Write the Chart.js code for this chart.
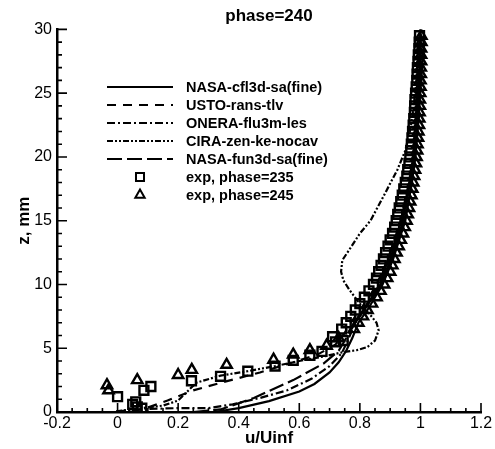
<!DOCTYPE html>
<html>
<head>
<meta charset="utf-8">
<script src="https://cdn.jsdelivr.net/npm/chart.js@4.4.1/dist/chart.umd.min.js"></script>
<style>
  body { margin: 0; background: #fff; }
</style>
</head>
<body>
<canvas id="grafico" width="495" height="449"></canvas>
<script>
// Ejes
var xTicks = [-0.2, 0, 0.2, 0.4, 0.6, 0.8, 1, 1.2];
var yTicks = [0, 5, 10, 15, 20, 25, 30];

// NASA-cfl3d-sa(fine)
var cfl3dU = [0.32, 0.40, 0.50, 0.60, 0.65, 0.70, 0.73, 0.755, 0.775, 0.795, 0.825, 0.85, 0.875, 0.91, 0.95, 0.972, 0.983, 0.997, 1.0];
var cfl3dZ = [0, 0.3, 0.85, 1.6, 2.2, 3.1, 3.9, 4.8, 5.8, 7, 8, 9, 10, 12, 15, 18, 20, 25, 30];

// USTO-rans-tlv
var ustoU = [0.05, 0.10, 0.165, 0.25, 0.35, 0.47, 0.58, 0.66, 0.72, 0.75, 0.77, 0.80, 0.83, 0.855, 0.893, 0.935, 0.962, 0.975, 0.993, 1.0];
var ustoZ = [0.1, 0.35, 0.9, 1.7, 2.35, 3.1, 3.9, 4.5, 5.3, 6.2, 7, 8, 9, 10, 12, 15, 18, 20, 25, 30];

// ONERA-flu3m-les
var oneraU = [0.0, 0.1, 0.2, 0.3, 0.38, 0.47, 0.56, 0.64, 0.7, 0.74, 0.76, 0.785, 0.812, 0.862, 0.898, 0.938, 0.964, 0.977, 0.993, 1.0];
var oneraZ = [0.05, 0.25, 0.3, 0.3, 0.6, 1.1, 1.7, 2.6, 3.6, 4.6, 5.6, 7, 8, 10, 12, 15, 18, 20, 25, 30];

// CIRA-zen-ke-nocav
var ciraU = [-0.005, 0.08, 0.15, 0.2, 0.23, 0.26, 0.34, 0.43, 0.52, 0.6, 0.68, 0.746, 0.79, 0.825, 0.85, 0.862, 0.855, 0.835, 0.81, 0.79, 0.765, 0.746, 0.738, 0.742, 0.77, 0.80, 0.835, 0.88, 0.924, 0.95, 0.965, 0.975, 0.985, 0.993, 1.0];
var ciraZ = [0.05, 0.3, 0.5, 0.9, 1.6, 2.3, 2.85, 3.2, 3.6, 4.0, 4.35, 4.7, 4.85, 5.1, 5.6, 6.4, 7.0, 7.6, 8.2, 8.8, 9.6, 10.3, 11, 11.9, 12.9, 14, 15, 17, 19, 20.5, 22, 23.5, 25.5, 27.5, 30];

// NASA-fun3d-sa(fine)
var fun3dU = [0.25, 0.34, 0.45, 0.58, 0.68, 0.73, 0.76, 0.785, 0.815, 0.865, 0.9, 0.94, 0.965, 0.978, 0.994, 1.0];
var fun3dZ = [0, 0.2, 1.1, 2.5, 3.8, 4.8, 6, 7, 8, 10, 12, 15, 18, 20, 25, 30];

// exp, phase=235
var exp235U = [0.0, 0.05, 0.06, 0.065, 0.08, 0.087, 0.11, 0.244, 0.34, 0.43, 0.52, 0.58, 0.635, 0.675, 0.72, 0.71, 0.745,
  0.74, 0.755, 0.77, 0.785, 0.80, 0.815, 0.83, 0.845, 0.855, 0.862, 0.87, 0.878, 0.885, 0.893, 0.90, 0.908, 0.915, 0.92,
  0.925, 0.93, 0.935, 0.94, 0.945, 0.95, 0.955, 0.958, 0.962, 0.965, 0.968, 0.97, 0.972, 0.974, 0.976, 0.978, 0.98,
  0.981, 0.982, 0.984, 0.986, 0.988, 0.989, 0.99, 0.992, 0.993, 0.995, 0.996, 0.997];
var exp235Z = [1.2, 0.6, 0.8, 0.4, 0.3, 1.7, 2.0, 2.45, 2.8, 3.2, 3.6, 4.05, 4.45, 4.75, 5.5, 5.9, 5.6,
  6.5, 7, 7.5, 8, 8.5, 9, 9.5, 10, 10.5, 11, 11.5, 12, 12.5, 13, 13.5, 14, 14.5, 15,
  15.5, 16, 16.5, 17, 17.5, 18, 18.5, 19, 19.5, 20, 20.5, 21, 21.5, 22, 22.5, 23, 23.5,
  24, 24.5, 25, 25.5, 26, 26.5, 27, 27.5, 28, 28.5, 29, 29.5];

// exp, phase=245
var exp245U = [-0.035, -0.03, 0.065, 0.2, 0.245, 0.36, 0.515, 0.58, 0.635, 0.69, 0.73,
  0.78, 0.795, 0.81, 0.825, 0.84, 0.855, 0.868, 0.88, 0.89, 0.9, 0.907, 0.914, 0.921, 0.928, 0.935, 0.942, 0.948, 0.954,
  0.958, 0.962, 0.966, 0.97, 0.973, 0.976, 0.979, 0.982, 0.985, 0.987, 0.989, 0.99, 0.992, 0.993, 0.995, 0.996, 0.997,
  0.998, 0.998, 0.999, 1.0, 1.0, 1.001, 1.001, 1.002, 1.002, 1.002, 1.003, 1.003];
var exp245Z = [2.1, 1.7, 2.5, 2.9, 3.3, 3.7, 4.1, 4.5, 4.85, 5.2, 5.8,
  6.5, 7, 7.5, 8, 8.5, 9, 9.5, 10, 10.5, 11, 11.5, 12, 12.5, 13, 13.5, 14, 14.5, 15,
  15.5, 16, 16.5, 17, 17.5, 18, 18.5, 19, 19.5, 20, 20.5, 21, 21.5, 22, 22.5, 23, 23.5,
  24, 24.5, 25, 25.5, 26, 26.5, 27, 27.5, 28, 28.5, 29, 29.5];

function puntos(us, zs) {
    return us.map(function (u, i) { return { x: u, y: zs[i] }; });
}

function curva(label, us, zs, dash) {
    return {
        label: label,
        data: puntos(us, zs),
        showLine: true,
        borderColor: '#000',
        borderWidth: 2.2,
        borderDash: dash,
        pointRadius: 0,
        fill: false
    };
}

function experimento(label, us, zs, estilo, radio) {
    return {
        label: label,
        data: puntos(us, zs),
        showLine: false,
        pointStyle: estilo,
        pointRadius: radio,
        pointBorderWidth: 2.4,
        pointBorderColor: '#000',
        pointBackgroundColor: 'rgba(0,0,0,0)'
    };
}

// Marcas interiores de los ejes (mayores y menores)
var marcasInternas = {
    id: 'marcasInternas',
    afterDatasetsDraw: function (chart) {
        var ctx = chart.ctx, a = chart.chartArea, sx = chart.scales.x, sy = chart.scales.y;
        ctx.save();
        ctx.strokeStyle = '#000';
        ctx.lineWidth = 1.6;
        ctx.beginPath();
        for (var i = 0; i < xTicks.length; i++) {
            var px = sx.getPixelForValue(xTicks[i]);
            ctx.moveTo(px, a.bottom); ctx.lineTo(px, a.bottom - 9);
            if (i < xTicks.length - 1) {
                for (var k = 1; k < 4; k++) {
                    var pm = sx.getPixelForValue(xTicks[i] + k * 0.05);
                    ctx.moveTo(pm, a.bottom); ctx.lineTo(pm, a.bottom - 4);
                }
            }
        }
        for (var j = 0; j < yTicks.length; j++) {
            var py = sy.getPixelForValue(yTicks[j]);
            ctx.moveTo(a.left, py); ctx.lineTo(a.left + 10, py);
            if (j < yTicks.length - 1) {
                for (var m = 1; m < 5; m++) {
                    var pn = sy.getPixelForValue(yTicks[j] + m);
                    ctx.moveTo(a.left, pn); ctx.lineTo(a.left + 5, pn);
                }
            }
        }
        ctx.stroke();
        ctx.restore();
    }
};

// Leyenda dentro del área del gráfico
var leyendaInterna = {
    id: 'leyendaInterna',
    afterDraw: function (chart) {
        var ctx = chart.ctx;
        ctx.save();
        ctx.font = 'bold 14.5px "Liberation Sans", Arial, sans-serif';
        ctx.textBaseline = 'middle';
        ctx.fillStyle = '#000';
        chart.data.datasets.forEach(function (ds, i) {
            var y = 87 + i * 18;
            if (ds.showLine) {
                ctx.save();
                ctx.strokeStyle = '#000';
                ctx.lineWidth = 2.2;
                ctx.setLineDash(ds.borderDash || []);
                ctx.beginPath();
                ctx.moveTo(107, y);
                ctx.lineTo(173, y);
                ctx.stroke();
                ctx.restore();
            } else {
                ctx.save();
                ctx.strokeStyle = '#000';
                ctx.fillStyle = 'rgba(0,0,0,0)';
                ctx.lineWidth = 2;
                Chart.helpers.drawPoint(ctx, { pointStyle: ds.pointStyle, radius: ds.pointRadius * 0.9, borderWidth: 2, rotation: 0 }, 140, y);
                ctx.restore();
            }
            ctx.fillText(ds.label, 186, y + 1);
        });
        ctx.restore();
    }
};

Chart.defaults.font.family = '"Liberation Sans", Arial, sans-serif';
Chart.defaults.color = '#000';

var ctxGrafico = document.getElementById('grafico').getContext('2d');
var grafico = new Chart(ctxGrafico, {
    type: 'scatter',
    data: {
        datasets: [
            curva('NASA-cfl3d-sa(fine)', cfl3dU, cfl3dZ, []),
            curva('USTO-rans-tlv', ustoU, ustoZ, [9, 7]),
            curva('ONERA-flu3m-les', oneraU, oneraZ, [8, 3, 2, 3]),
            curva('CIRA-zen-ke-nocav', ciraU, ciraZ, [6, 2, 2, 2, 2, 2]),
            curva('NASA-fun3d-sa(fine)', fun3dU, fun3dZ, [15, 5]),
            experimento('exp, phase=235', exp235U, exp235Z, 'rect', 6.3),
            experimento('exp, phase=245', exp245U, exp245Z, 'triangle', 6)
        ]
    },
    options: {
        responsive: false,
        animation: false,
        layout: { padding: { left: 0, right: 14, top: 0, bottom: 0 } },
        plugins: {
            legend: { display: false },
            tooltip: { enabled: false },
            title: {
                display: true,
                text: 'phase=240',
                fullSize: false,
                font: { size: 17, weight: 'bold' },
                padding: { top: 6, bottom: 3 }
            }
        },
        scales: {
            x: {
                type: 'linear',
                min: -0.2,
                max: 1.2,
                afterBuildTicks: function (s) { s.ticks = xTicks.map(function (v) { return { value: v }; }); },
                afterFit: function (s) { s.height = 37; },
                ticks: {
                    font: { size: 16 },
                    padding: 2,
                    maxRotation: 0,
                    callback: function (v) { return String(Math.round(v * 10) / 10); }
                },
                grid: { display: false, drawTicks: false, tickLength: 0 },
                border: { display: true, color: '#000', width: 2.5 },
                title: {
                    display: true,
                    text: 'u/Uinf',
                    font: { size: 17, weight: 'bold' },
                    padding: { top: 0, bottom: 0 }
                }
            },
            y: {
                type: 'linear',
                min: 0,
                max: 30,
                afterBuildTicks: function (s) { s.ticks = yTicks.map(function (v) { return { value: v }; }); },
                afterFit: function (s) { s.width = 57; },
                ticks: {
                    font: { size: 16 },
                    padding: 5
                },
                grid: { display: false, drawTicks: false, tickLength: 0 },
                border: { display: true, color: '#000', width: 2.5 },
                title: {
                    display: true,
                    text: 'z, mm',
                    font: { size: 17, weight: 'bold' },
                    padding: { top: 14, bottom: 0 }
                }
            }
        }
    },
    plugins: [marcasInternas, leyendaInterna]
});
</script>
</body>
</html>
